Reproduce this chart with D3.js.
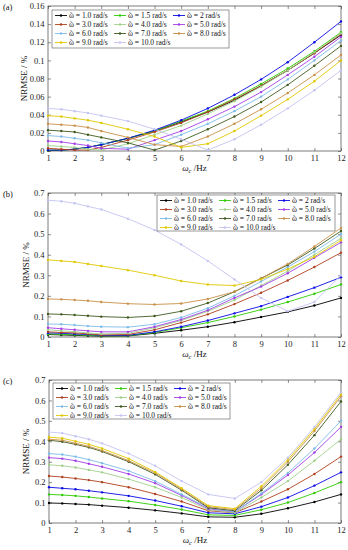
<!DOCTYPE html>
<html>
<head>
<meta charset="utf-8">
<script src="https://cdn.jsdelivr.net/npm/d3@7"></script>
<style>
  body { margin: 0; background: #fff; }
  svg text { font-family: "Liberation Serif", "DejaVu Serif", serif; }
</style>
</head>
<body>
<div id="chart"></div>
<script>
// cutoff frequencies (Hz)
const wc = [1, 1.5, 2, 2.5, 3, 4, 5, 6, 7, 8, 9, 10, 11, 12];
// omega-tilde legend labels (rad/s)
const omegaLabels = ["1.0", "1.5", "2", "3.0", "4.0", "5.0", "6.0", "7.0", "8.0", "9.0", "10.0"];
const lineColors = ["#000000", "#2ccc00", "#0a0ae6", "#b0401e", "#9fd08a", "#a33ee8",
  "#7dbbe6", "#3f5a1e", "#c99048", "#e0c800", "#c4c4f2"];

// panel (a) NRMSE, one row per omega-tilde
const nrmseA = [
  [0.0005, 0.001, 0.002, 0.004, 0.007, 0.014, 0.022, 0.032, 0.043, 0.056, 0.072, 0.089, 0.108, 0.128],
  [0.0008, 0.001, 0.002, 0.004, 0.007, 0.014, 0.022, 0.033, 0.044, 0.058, 0.074, 0.091, 0.110, 0.131],
  [0.001, 0.001, 0.002, 0.004, 0.007, 0.014, 0.023, 0.034, 0.047, 0.062, 0.079, 0.098, 0.120, 0.143],
  [0.003, 0.002, 0.001, 0.001, 0.004, 0.012, 0.021, 0.031, 0.043, 0.057, 0.072, 0.089, 0.108, 0.129],
  [0.006, 0.005, 0.004, 0.002, 0.001, 0.008, 0.018, 0.028, 0.041, 0.055, 0.071, 0.089, 0.109, 0.130],
  [0.011, 0.010, 0.008, 0.006, 0.003, 0.002, 0.012, 0.022, 0.035, 0.049, 0.065, 0.084, 0.104, 0.126],
  [0.017, 0.016, 0.014, 0.012, 0.009, 0.003, 0.007, 0.018, 0.030, 0.044, 0.060, 0.079, 0.100, 0.122],
  [0.023, 0.022, 0.021, 0.018, 0.015, 0.009, 0.001, 0.011, 0.024, 0.038, 0.054, 0.073, 0.094, 0.116],
  [0.030, 0.029, 0.028, 0.026, 0.022, 0.015, 0.007, 0.005, 0.016, 0.030, 0.046, 0.064, 0.084, 0.106],
  [0.039, 0.038, 0.036, 0.034, 0.031, 0.024, 0.016, 0.004, 0.008, 0.022, 0.039, 0.057, 0.077, 0.100],
  [0.047, 0.046, 0.044, 0.042, 0.039, 0.033, 0.024, 0.013, 0.001, 0.013, 0.029, 0.047, 0.067, 0.089]
];

// panel (b)
const nrmseB = [
  [0.012, 0.010, 0.008, 0.006, 0.004, 0.005, 0.018, 0.033, 0.050, 0.072, 0.097, 0.122, 0.153, 0.190],
  [0.015, 0.013, 0.011, 0.008, 0.006, 0.006, 0.022, 0.045, 0.070, 0.100, 0.133, 0.170, 0.210, 0.255],
  [0.020, 0.018, 0.015, 0.012, 0.008, 0.008, 0.025, 0.050, 0.080, 0.115, 0.150, 0.195, 0.240, 0.290],
  [0.025, 0.022, 0.020, 0.015, 0.010, 0.012, 0.035, 0.070, 0.110, 0.160, 0.215, 0.275, 0.340, 0.410],
  [0.035, 0.030, 0.026, 0.020, 0.015, 0.018, 0.045, 0.080, 0.125, 0.180, 0.250, 0.320, 0.400, 0.480],
  [0.045, 0.040, 0.035, 0.030, 0.025, 0.025, 0.050, 0.085, 0.130, 0.190, 0.245, 0.310, 0.385, 0.460],
  [0.063, 0.062, 0.058, 0.053, 0.050, 0.048, 0.062, 0.095, 0.140, 0.200, 0.270, 0.340, 0.415, 0.500],
  [0.112, 0.110, 0.107, 0.103, 0.099, 0.095, 0.102, 0.125, 0.165, 0.220, 0.285, 0.350, 0.430, 0.515],
  [0.185, 0.183, 0.180, 0.176, 0.170, 0.162, 0.158, 0.163, 0.185, 0.220, 0.285, 0.355, 0.440, 0.530],
  [0.375, 0.370, 0.365, 0.355, 0.345, 0.325, 0.300, 0.272, 0.255, 0.250, 0.280, 0.330, 0.390, 0.470],
  [0.665, 0.660, 0.650, 0.635, 0.620, 0.575, 0.520, 0.450, 0.370, 0.280, 0.190, 0.125, 0.170, 0.300]
];

// panel (c)
const nrmseC = [
  [0.098, 0.096, 0.093, 0.090, 0.085, 0.075, 0.062, 0.047, 0.030, 0.028, 0.045, 0.072, 0.103, 0.140],
  [0.140, 0.137, 0.133, 0.127, 0.120, 0.107, 0.088, 0.066, 0.040, 0.037, 0.065, 0.100, 0.147, 0.200],
  [0.175, 0.170, 0.165, 0.158, 0.150, 0.133, 0.110, 0.082, 0.050, 0.045, 0.080, 0.125, 0.183, 0.248],
  [0.230, 0.225, 0.218, 0.210, 0.200, 0.175, 0.142, 0.105, 0.060, 0.050, 0.105, 0.165, 0.240, 0.325],
  [0.285, 0.280, 0.272, 0.260, 0.248, 0.215, 0.175, 0.125, 0.065, 0.050, 0.125, 0.205, 0.305, 0.410],
  [0.320, 0.315, 0.305, 0.290, 0.275, 0.240, 0.195, 0.135, 0.070, 0.055, 0.140, 0.235, 0.345, 0.470],
  [0.340, 0.335, 0.325, 0.310, 0.293, 0.255, 0.205, 0.140, 0.075, 0.055, 0.145, 0.245, 0.365, 0.500],
  [0.405, 0.398, 0.385, 0.370, 0.350, 0.300, 0.238, 0.160, 0.075, 0.060, 0.160, 0.285, 0.430, 0.595],
  [0.410, 0.405, 0.390, 0.375, 0.355, 0.305, 0.245, 0.165, 0.080, 0.065, 0.170, 0.300, 0.450, 0.620],
  [0.420, 0.415, 0.400, 0.385, 0.365, 0.315, 0.250, 0.170, 0.085, 0.070, 0.180, 0.310, 0.460, 0.630],
  [0.445, 0.440, 0.425, 0.410, 0.390, 0.340, 0.280, 0.205, 0.140, 0.120, 0.200, 0.320, 0.470, 0.640]
];

const xTicks = [1, 2, 3, 4, 5, 6, 7, 8, 9, 10, 11, 12];
const yTicksA = [0, 0.02, 0.04, 0.06, 0.08, 0.1, 0.12, 0.14, 0.16];
const yTicksBC = [0, 0.1, 0.2, 0.3, 0.4, 0.5, 0.6, 0.7];

const svg = d3.select("#chart").append("svg")
  .attr("width", 348)
  .attr("height", 550);

function drawPanel(p) {
  const g = svg.append("g");
  const x = d3.scaleLinear().domain([1, 12]).range([p.left, p.right]);
  const y = d3.scaleLinear().domain([0, p.ymax]).range([p.bottom, p.top]);
  const fmt = (d) => String(+d.toFixed(2));

  // axes with inward ticks on all four sides
  const axes = [
    [d3.axisBottom(x).tickValues(xTicks).tickFormat(fmt), `translate(0,${p.bottom})`],
    [d3.axisTop(x).tickValues(xTicks).tickFormat(""), `translate(0,${p.top})`],
    [d3.axisLeft(y).tickValues(p.yTicks).tickFormat(fmt), `translate(${p.left},0)`],
    [d3.axisRight(y).tickValues(p.yTicks).tickFormat(""), `translate(${p.right},0)`]
  ];
  axes.forEach(([ax, tr]) => {
    const a = g.append("g")
      .attr("transform", tr)
      .call(ax.tickSizeInner(-3).tickSizeOuter(0).tickPadding(3.5));
    a.select(".domain").remove();
    a.attr("font-family", null);
    a.selectAll("line").attr("stroke", "#444").attr("stroke-width", 0.6);
    a.selectAll("text").style("font-size", "8.5px").attr("fill", "#222");
  });

  g.append("rect")
    .attr("x", p.left).attr("y", p.top)
    .attr("width", p.right - p.left).attr("height", p.bottom - p.top)
    .attr("fill", "none").attr("stroke", "#444").attr("stroke-width", 0.7);

  // curves
  const line = d3.line().x((d, i) => x(wc[i])).y((d) => y(d));
  p.data.forEach((row, k) => {
    g.append("path")
      .datum(row)
      .attr("d", line)
      .attr("fill", "none")
      .attr("stroke", lineColors[k])
      .attr("stroke-width", 0.9);
    g.selectAll(null)
      .data(row)
      .join("circle")
      .attr("cx", (d, i) => x(wc[i]))
      .attr("cy", (d) => y(d))
      .attr("r", 1.2)
      .attr("fill", lineColors[k]);
  });

  // legend
  const lg = g.append("g").attr("transform", `translate(${p.legend[0]},${p.legend[1]})`);
  lg.append("rect")
    .attr("width", p.legend[2]).attr("height", p.legend[3])
    .attr("fill", "#fff").attr("stroke", "#555").attr("stroke-width", 0.6);
  omegaLabels.forEach((lab, k) => {
    const col = k % 3, row = Math.floor(k / 3);
    const lx = 3 + col * 59, ly = 5.5 + row * 9;
    lg.append("line")
      .attr("x1", lx).attr("x2", lx + 12)
      .attr("y1", ly).attr("y2", ly)
      .attr("stroke", lineColors[k]).attr("stroke-width", 0.9);
    lg.append("circle")
      .attr("cx", lx + 6).attr("cy", ly).attr("r", 1.2)
      .attr("fill", lineColors[k]);
    const t = lg.append("text")
      .attr("x", lx + 14).attr("y", ly + 2.6)
      .style("font-size", "7.5px")
      .attr("fill", "#111");
    // omega with a tilde laid over it
    t.append("tspan").text("\u03C9");
    t.append("tspan").attr("dx", -3.9).attr("dy", -0.2).text("\u02DC");
    t.append("tspan").attr("dx", 1.4).attr("dy", 0.2).text(" = " + lab + " rad/s");
  });

  // axis labels
  g.append("text")
    .attr("transform", `translate(${p.yLabelX},${(p.top + p.bottom) / 2}) rotate(-90)`)
    .attr("text-anchor", "middle")
    .style("font-size", "9px")
    .attr("fill", "#111")
    .text("NRMSE / %");

  const xl = g.append("text")
    .attr("x", (p.left + p.right) / 2)
    .attr("y", p.bottom + 19.5)
    .attr("text-anchor", "middle")
    .style("font-size", "9px")
    .attr("fill", "#111");
  xl.append("tspan").style("font-style", "italic").text("\u03C9");
  xl.append("tspan").attr("dy", 2).style("font-size", "6.5px").style("font-style", "italic").text("c");
  xl.append("tspan").attr("dy", -2).text(" /Hz");

  g.append("text")
    .attr("x", 3).attr("y", p.top + 4)
    .style("font-size", "8.5px")
    .attr("fill", "#111")
    .text(p.tag);
}

drawPanel({ tag: "(a)", left: 48, right: 341, top: 6, bottom: 151, ymax: 0.16,
  yTicks: yTicksA, data: nrmseA, legend: [52, 10, 177, 38], yLabelX: 27 });
drawPanel({ tag: "(b)", left: 48, right: 341, top: 193, bottom: 337, ymax: 0.7,
  yTicks: yTicksBC, data: nrmseB, legend: [157, 195, 178, 36], yLabelX: 29 });
drawPanel({ tag: "(c)", left: 49, right: 341, top: 380, bottom: 523, ymax: 0.7,
  yTicks: yTicksBC, data: nrmseC, legend: [53, 383, 177, 36], yLabelX: 29 });
</script>
</body>
</html>
